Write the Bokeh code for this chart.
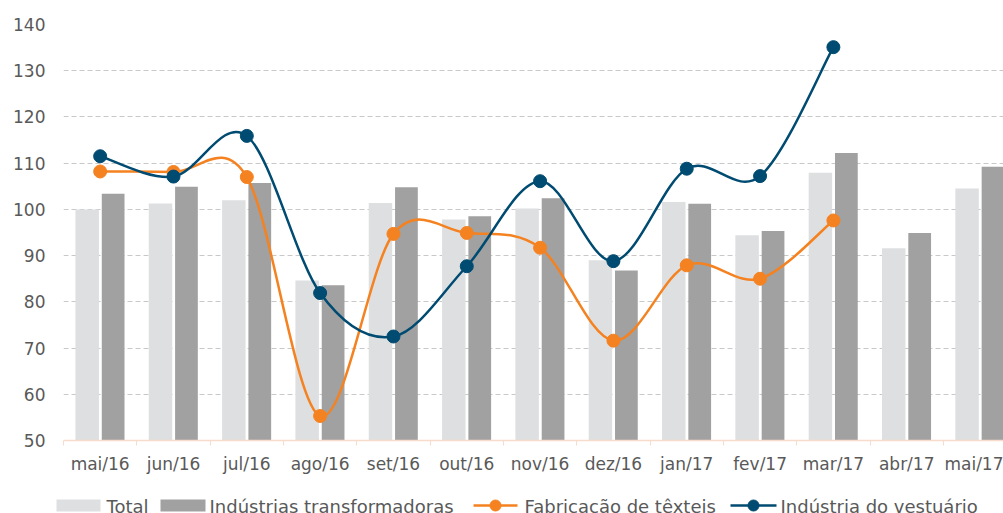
from bokeh.plotting import figure
from bokeh.layouts import column
from bokeh.models import Range1d, FixedTicker, ColumnDataSource
from bokeh.core.properties import value
from bokeh.embed import file_html
from bokeh.resources import INLINE

months = ["mai/16", "jun/16", "jul/16", "ago/16", "set/16", "out/16", "nov/16",
          "dez/16", "jan/17", "fev/17", "mar/17", "abr/17", "mai/17"]
total = [100.0, 101.3, 102.0, 84.6, 101.4, 97.8, 100.2, 89.0, 101.6, 94.4, 107.9, 91.6, 104.5]
industrias = [103.4, 104.9, 105.7, 83.6, 104.8, 98.5, 102.4, 86.8, 101.2, 95.3, 112.2, 94.9, 109.2]
texteis = [108.2, 108.1, 107.0, 55.3, 94.7, 94.9, 91.7, 71.6, 87.9, 85.0, 97.6]
vestuario = [111.5, 107.1, 115.9, 81.9, 72.5, 87.7, 106.1, 88.8, 108.8, 107.2, 135.1]
y_ticks = [50, 60, 70, 80, 90, 100, 110, 120, 130, 140]
series_names = ["Total", "Indústrias transformadoras", "Fabricação de têxteis", "Indústria do vestuário"]

FONT = "DejaVu Sans"
TXT = "#595959"
LIGHT = "#DEDFE1"
DARK = "#A0A1A0"
ORANGE = "#F58220"
BLUE = "#004B71"
PEACH = "#F8DCCB"

p = figure(width=1003, height=490, output_backend="svg", toolbar_location=None,
           x_range=Range1d(-0.5, 12.32), y_range=Range1d(50, 140),
           min_border_left=63, min_border_right=0, min_border_top=24, min_border_bottom=50)
p.outline_line_color = None
p.background_fill_color = "white"
p.border_fill_color = "white"
p.frame_align = False

xs = list(range(len(months)))

# bars
p.vbar(x=[i - 0.177 for i in xs], top=total, bottom=50, width=0.32,
       fill_color=LIGHT, line_color=None)
p.vbar(x=[i + 0.177 for i in xs], top=industrias, bottom=50, width=0.31,
       fill_color=DARK, line_color=None)


def smooth(ys):
    n = len(ys)
    P = [(float(i), float(y)) for i, y in enumerate(ys)]
    d = dict(x0=[], y0=[], x1=[], y1=[], cx0=[], cy0=[], cx1=[], cy1=[])
    for i in range(n - 1):
        pm = P[max(i - 1, 0)]
        p0 = P[i]
        p1 = P[i + 1]
        p2 = P[min(i + 2, n - 1)]
        d["x0"].append(p0[0]); d["y0"].append(p0[1])
        d["x1"].append(p1[0]); d["y1"].append(p1[1])
        d["cx0"].append(p0[0] + (p1[0] - pm[0]) / 6)
        d["cy0"].append(p0[1] + (p1[1] - pm[1]) / 6)
        d["cx1"].append(p1[0] - (p2[0] - p0[0]) / 6)
        d["cy1"].append(p1[1] - (p2[1] - p0[1]) / 6)
    return ColumnDataSource(d)


p.bezier(x0="x0", y0="y0", x1="x1", y1="y1", cx0="cx0", cy0="cy0", cx1="cx1", cy1="cy1",
         source=smooth(texteis), line_color=ORANGE, line_width=2.5)
p.scatter(x=xs[:len(texteis)], y=texteis, size=13, fill_color=ORANGE, line_color=ORANGE)
p.bezier(x0="x0", y0="y0", x1="x1", y1="y1", cx0="cx0", cy0="cy0", cx1="cx1", cy1="cy1",
         source=smooth(vestuario), line_color=BLUE, line_width=2.5)
p.scatter(x=xs[:len(vestuario)], y=vestuario, size=13, fill_color=BLUE, line_color=BLUE)

# axes
xa = p.xaxis[0]
xa.ticker = FixedTicker(ticks=xs, minor_ticks=[i - 0.5 for i in range(len(months) + 1)])
xa.major_label_overrides = {i: m for i, m in enumerate(months)}
xa.major_tick_out = 0
xa.major_tick_in = 0
xa.minor_tick_out = 5
xa.minor_tick_in = 0
xa.minor_tick_line_color = PEACH
xa.axis_line_color = PEACH
xa.axis_line_width = 1.5
xa.major_label_text_font = FONT
xa.major_label_text_font_size = "17px"
xa.major_label_text_color = TXT
xa.major_label_standoff = 8

ya = p.yaxis[0]
ya.ticker = FixedTicker(ticks=y_ticks)
ya.axis_line_color = None
ya.major_tick_line_color = None
ya.minor_tick_line_color = None
ya.major_label_text_font = FONT
ya.major_label_text_font_size = "17px"
ya.major_label_text_color = TXT
ya.major_label_standoff = 12

p.xgrid.grid_line_color = None
p.ygrid.grid_line_color = "#C8C8C8"
p.ygrid.grid_line_dash = "5 3"
p.ygrid.grid_line_width = 1.2

# legend strip (screen-pixel coordinates of the page)
leg = figure(width=1003, height=23, output_backend="svg", toolbar_location=None,
             x_range=Range1d(0, 1003), y_range=Range1d(513, 490),
             min_border=0, x_axis_type=None, y_axis_type=None)
leg.frame_align = False
leg.outline_line_color = None
leg.xgrid.grid_line_color = None
leg.ygrid.grid_line_color = None

leg.quad(left=[56, 160], right=[100, 205], bottom=[511, 511], top=[499, 499],
         fill_color=[LIGHT, DARK], line_color=None)
leg.segment(x0=[473, 730], y0=[505, 505], x1=[517, 776], y1=[505, 505],
            line_color=[ORANGE, BLUE], line_width=2.5)
leg.scatter(x=[495, 753], y=[505, 505], size=11, fill_color=[ORANGE, BLUE], line_color=[ORANGE, BLUE])
leg.text(x=[106, 209, 524, 780], y=[506, 506, 506, 506], text=series_names,
         text_font=value(FONT), text_font_size="18px", text_color=TXT,
         text_baseline="alphabetic", text_align="left")

layout = column(p, leg, spacing=0)
open("out.html", "w").write(file_html(layout, INLINE))
